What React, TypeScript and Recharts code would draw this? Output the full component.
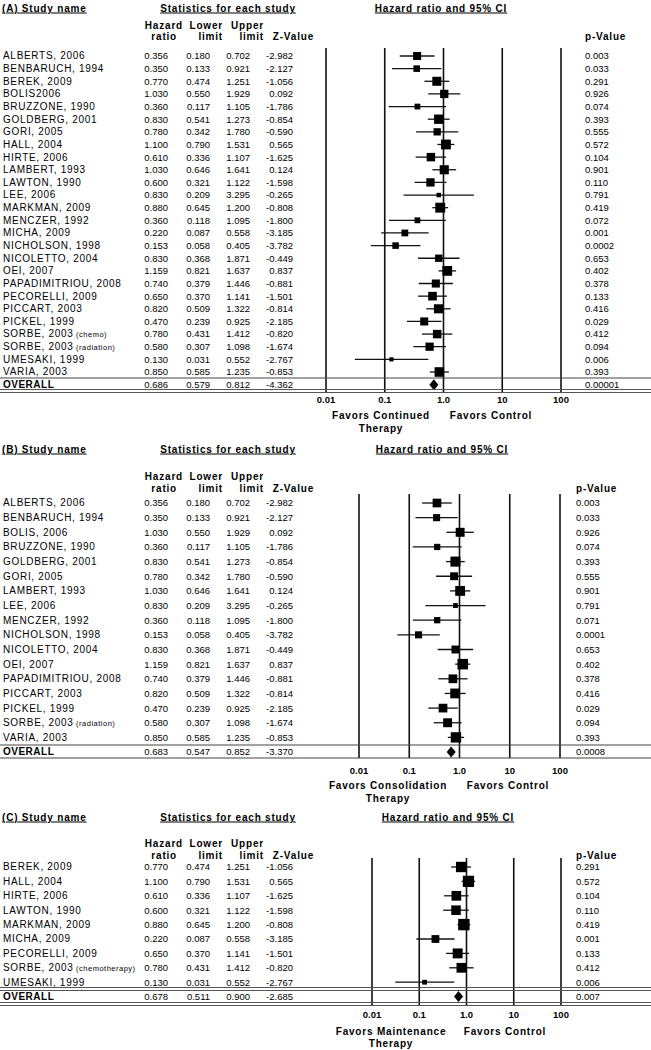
import React from 'react';
import { ScatterChart, Scatter, XAxis, YAxis, ErrorBar, ReferenceLine } from 'recharts';

// ---------- Shared axis ----------
const axisTicks = [0.01, 0.1, 1, 10, 100];
const axisTickLabels = ['0.01', '0.1', '1.0', '10', '100'];

// ---------- Panel A: continued therapy ----------
const studiesA = ['ALBERTS, 2006', 'BENBARUCH, 1994', 'BEREK, 2009', 'BOLIS2006', 'BRUZZONE, 1990', 'GOLDBERG, 2001', 'GORI, 2005', 'HALL, 2004', 'HIRTE, 2006', 'LAMBERT, 1993', 'LAWTON, 1990', 'LEE, 2006', 'MARKMAN, 2009', 'MENCZER, 1992', 'MICHA, 2009', 'NICHOLSON, 1998', 'NICOLETTO, 2004', 'OEI, 2007', 'PAPADIMITRIOU, 2008', 'PECORELLI, 2009', 'PICCART, 2003', 'PICKEL, 1999', 'SORBE, 2003', 'SORBE, 2003', 'UMESAKI, 1999', 'VARIA, 2003'];
const suffixA = ['', '', '', '', '', '', '', '', '', '', '', '', '', '', '', '', '', '', '', '', '', '', '(chemo)', '(radiation)', '', ''];
const hrA = [0.356, 0.350, 0.770, 1.030, 0.360, 0.830, 0.780, 1.100, 0.610, 1.030, 0.600, 0.830, 0.880, 0.360, 0.220, 0.153, 0.830, 1.159, 0.740, 0.650, 0.820, 0.470, 0.780, 0.580, 0.130, 0.850];
const lowerA = [0.180, 0.133, 0.474, 0.550, 0.117, 0.541, 0.342, 0.790, 0.336, 0.646, 0.321, 0.209, 0.645, 0.118, 0.087, 0.058, 0.368, 0.821, 0.379, 0.370, 0.509, 0.239, 0.431, 0.307, 0.031, 0.585];
const upperA = [0.702, 0.921, 1.251, 1.929, 1.105, 1.273, 1.780, 1.531, 1.107, 1.641, 1.122, 3.295, 1.200, 1.095, 0.558, 0.405, 1.871, 1.637, 1.446, 1.141, 1.322, 0.925, 1.412, 1.098, 0.552, 1.235];
const zA = [-2.982, -2.127, -1.056, 0.092, -1.786, -0.854, -0.590, 0.565, -1.625, 0.124, -1.598, -0.265, -0.808, -1.800, -3.185, -3.782, -0.449, 0.837, -0.881, -1.501, -0.814, -2.185, -0.820, -1.674, -2.767, -0.853];
const pA = ['0.003', '0.033', '0.291', '0.926', '0.074', '0.393', '0.555', '0.572', '0.104', '0.901', '0.110', '0.791', '0.419', '0.072', '0.001', '0.0002', '0.653', '0.402', '0.378', '0.133', '0.416', '0.029', '0.412', '0.094', '0.006', '0.393'];
const overallA = [0.686, 0.579, 0.812, -4.362];
const overallPA = '0.00001';

// ---------- Panel B: consolidation therapy ----------
const studiesB = ['ALBERTS, 2006', 'BENBARUCH, 1994', 'BOLIS, 2006', 'BRUZZONE, 1990', 'GOLDBERG, 2001', 'GORI, 2005', 'LAMBERT, 1993', 'LEE, 2006', 'MENCZER, 1992', 'NICHOLSON, 1998', 'NICOLETTO,  2004', 'OEI, 2007', 'PAPADIMITRIOU,  2008', 'PICCART, 2003', 'PICKEL, 1999', 'SORBE, 2003', 'VARIA, 2003'];
const suffixB = ['', '', '', '', '', '', '', '', '', '', '', '', '', '', '', '(radiation)', ''];
const hrB = [0.356, 0.350, 1.030, 0.360, 0.830, 0.780, 1.030, 0.830, 0.360, 0.153, 0.830, 1.159, 0.740, 0.820, 0.470, 0.580, 0.850];
const lowerB = [0.180, 0.133, 0.550, 0.117, 0.541, 0.342, 0.646, 0.209, 0.118, 0.058, 0.368, 0.821, 0.379, 0.509, 0.239, 0.307, 0.585];
const upperB = [0.702, 0.921, 1.929, 1.105, 1.273, 1.780, 1.641, 3.295, 1.095, 0.405, 1.871, 1.637, 1.446, 1.322, 0.925, 1.098, 1.235];
const zB = [-2.982, -2.127, 0.092, -1.786, -0.854, -0.590, 0.124, -0.265, -1.800, -3.782, -0.449, 0.837, -0.881, -0.814, -2.185, -1.674, -0.853];
const pB = ['0.003', '0.033', '0.926', '0.074', '0.393', '0.555', '0.901', '0.791', '0.071', '0.0001', '0.653', '0.402', '0.378', '0.416', '0.029', '0.094', '0.393'];
const overallB = [0.683, 0.547, 0.852, -3.370];
const overallPB = '0.0008';

// ---------- Panel C: maintenance therapy ----------
const studiesC = ['BEREK, 2009', 'HALL, 2004', 'HIRTE, 2006', 'LAWTON, 1990', 'MARKMAN, 2009', 'MICHA, 2009', 'PECORELLI, 2009', 'SORBE, 2003', 'UMESAKI, 1999'];
const suffixC = ['', '', '', '', '', '', '', '(chemotherapy)', ''];
const hrC = [0.770, 1.100, 0.610, 0.600, 0.880, 0.220, 0.650, 0.780, 0.130];
const lowerC = [0.474, 0.790, 0.336, 0.321, 0.645, 0.087, 0.370, 0.431, 0.031];
const upperC = [1.251, 1.531, 1.107, 1.122, 1.200, 0.558, 1.141, 1.412, 0.552];
const zC = [-1.056, 0.565, -1.625, -1.598, -0.808, -3.185, -1.501, -0.820, -2.767];
const pC = ['0.291', '0.572', '0.104', '0.110', '0.419', '0.001', '0.133', '0.412', '0.006'];
const overallC = [0.678, 0.511, 0.900, -2.685];
const overallPC = '0.007';

const FONT = '"Liberation Sans", Arial, Helvetica, sans-serif';
const FS = 9.5;
const INK = '#000';

// layout (absolute page coordinates)
const layoutA = { top: 0, height: 440, rowY0: 56, spacing: 12.64, plotTop: 48, plotBottom: 392, left: 326, right: 561, pX: 585, titleY: 8, h1Y: 25, h2Y: 36, tickY: 399, fav1Y: 415, fav2Y: 428, favL: 381, favR: 491, ciX: 441, lineAbove: 378, lineBelow: 391, aboveDouble: false, belowDouble: true, k: 1.0, label: '(A) Study name', favText: 'Favors Continued' };
const layoutB = { top: 440, height: 370, rowY0: 503, spacing: 14.65, plotTop: 494, plotBottom: 758, left: 359, right: 560, pX: 576, titleY: 449, h1Y: 476, h2Y: 488, tickY: 770, fav1Y: 785, fav2Y: 798, favL: 388, favR: 508, ciX: 442, lineAbove: 745, lineBelow: 758, aboveDouble: false, belowDouble: false, k: 1.08, label: '(B) Study name', favText: 'Favors Consolidation' };
const layoutC = { top: 810, height: 240, rowY0: 867, spacing: 14.4, plotTop: 858, plotBottom: 1005, left: 372, right: 561, pX: 576, titleY: 817, h1Y: 843, h2Y: 855, tickY: 1014, fav1Y: 1031, fav2Y: 1043, favL: 391, favR: 505, ciX: 448, lineAbove: 989, lineBelow: 1004, aboveDouble: true, belowDouble: true, k: 1.15, label: '(C) Study name', favText: 'Favors Maintenance' };

const colHR = 168, colLo = 210, colUp = 250, colZ = 293;

function HLine({ y, double, W }: any) {
  if (double) {
    return (
      <g>
        <line x1={0} x2={W} y1={y - 1.5} y2={y - 1.5} stroke="#555" strokeWidth={1} />
        <line x1={0} x2={W} y1={y + 1.5} y2={y + 1.5} stroke="#555" strokeWidth={1} />
      </g>
    );
  }
  return <line x1={0} x2={W} y1={y} y2={y} stroke="#444" strokeWidth={1} />;
}

function ForestPanel(props: any) {
  const { names, suffixes, hr, lower, upper, z, p, overall, overallP, L } = props;
  const n = names.length;
  const rows = names.map((nm: string, i: number) => ({
    x: hr[i], y: i, lower: lower[i], upper: upper[i], err: [hr[i] - lower[i], upper[i] - hr[i]],
  }));
  const overallRow = [{ x: overall[0], y: n, lower: overall[1], upper: overall[2] }];
  const yDomain = [(L.plotTop - L.rowY0) / L.spacing, (L.plotBottom - L.rowY0) / L.spacing];
  const yTicks = Array.from({ length: n + 1 }, (_, i) => i);
  const W = 651;

  const rowTick = (tp: any) => {
    const i = tp.payload.value;
    const y = tp.y;
    const by = y + 3.4;
    const isOverall = i === n;
    const fmt = (v: number) => v.toFixed(3);
    const vals = isOverall ? overall : [hr[i], lower[i], upper[i], z[i]];
    const pv = isOverall ? overallP : p[i];
    return (
      <g key={'row' + i} fontFamily={FONT} fontSize={FS} fill={INK}>
        {isOverall ? (
          <g>
            <HLine y={L.lineAbove - L.top} double={L.aboveDouble} W={W} />
            <HLine y={L.lineBelow - L.top} double={L.belowDouble} W={W} />
          </g>
        ) : null}
        {isOverall ? (
          <text x={3} y={by} fontWeight="bold" fontSize={10} letterSpacing={0.5}>OVERALL</text>
        ) : (
          <text x={3} y={by} fontSize={10} letterSpacing={0.7}>
            {names[i]}
            {suffixes[i] ? <tspan fontSize={7.5} letterSpacing={0.5}>{' ' + suffixes[i]}</tspan> : null}
          </text>
        )}
        <text x={colHR} y={by} textAnchor="end">{fmt(vals[0])}</text>
        <text x={colLo} y={by} textAnchor="end">{fmt(vals[1])}</text>
        <text x={colUp} y={by} textAnchor="end">{fmt(vals[2])}</text>
        <text x={colZ} y={by} textAnchor="end">{fmt(vals[3])}</text>
        <text x={L.pX} y={by}>{pv}</text>
      </g>
    );
  };

  const xTick = (tp: any) => {
    const idx = axisTicks.indexOf(tp.payload.value);
    return (
      <text x={tp.x} y={L.tickY - L.top + 3.5} textAnchor="middle" fontFamily={FONT} fontSize={FS} fontWeight="bold" fill={INK}>
        {idx >= 0 ? axisTickLabels[idx] : ''}
      </text>
    );
  };

  const square = (sp: any) => {
    const { cx, cy, payload } = sp;
    const se = (Math.log(payload.upper) - Math.log(payload.lower)) / 3.92;
    const s = Math.max(4, Math.min(12.5, (11.5 - 10 * se) * L.k));
    return <rect x={cx - s / 2} y={cy - s / 2} width={s} height={s} fill="#000" />;
  };
  const diamond = (sp: any) => {
    const { cx, cy } = sp;
    return <polygon points={`${cx - 4.5},${cy} ${cx},${cy - 5.5} ${cx + 4.5},${cy} ${cx},${cy + 5.5}`} fill="#000" />;
  };

  const xH = 20;
  const margin = {
    top: L.plotTop - L.top,
    right: W - L.right,
    left: L.left - 1,
    bottom: L.top + L.height - L.plotBottom - xH,
  };

  return (
    <div style={{ position: 'absolute', left: 0, top: L.top, width: W, height: L.height }}>
      <ScatterChart width={W} height={L.height} margin={margin}>
        <XAxis type="number" dataKey="x" scale="log" domain={[0.01, 100]} ticks={axisTicks} allowDataOverflow
          axisLine={false} tickLine={false} height={xH} tick={xTick} interval={0} />
        <YAxis type="number" dataKey="y" domain={yDomain} reversed ticks={yTicks} interval={0} width={1}
          axisLine={false} tickLine={false} tick={rowTick} allowDataOverflow />
        {axisTicks.map((v) => (
          <ReferenceLine key={'v' + v} x={v} stroke="#111" strokeWidth={1.6} />
        ))}
        <Scatter data={rows} shape={square} isAnimationActive={false}>
          <ErrorBar dataKey="err" direction="x" width={0} stroke="#111" strokeWidth={1.3} isAnimationActive={false} />
        </Scatter>
        <Scatter data={overallRow} shape={diamond} isAnimationActive={false} />
      </ScatterChart>
    </div>
  );
}

function StaticText({ L }: any) {
  const t = (y: number) => y - L.top + 3.5;
  const bold = { fontFamily: FONT, fontSize: 10, fontWeight: 'bold' as const, fill: INK, letterSpacing: 0.8 };
  const ul = { ...bold, textDecoration: 'underline' };
  return (
    <svg width={651} height={L.height} style={{ position: 'absolute', left: 0, top: L.top, pointerEvents: 'none' }}>
      <text x={2} y={t(L.titleY)} style={ul as any}>{L.label}</text>
      <text x={228} y={t(L.titleY)} textAnchor="middle" style={ul as any}>Statistics for each study</text>
      <text x={L.ciX} y={t(L.titleY)} textAnchor="middle" style={ul as any}>Hazard ratio and 95%  CI</text>
      <text x={183} y={t(L.h1Y)} textAnchor="end" style={bold}>Hazard</text>
      <text x={177} y={t(L.h2Y)} textAnchor="end" style={bold}>ratio</text>
      <text x={223} y={t(L.h1Y)} textAnchor="end" style={bold}>Lower</text>
      <text x={223} y={t(L.h2Y)} textAnchor="end" style={bold}>limit</text>
      <text x={264} y={t(L.h1Y)} textAnchor="end" style={bold}>Upper</text>
      <text x={264} y={t(L.h2Y)} textAnchor="end" style={bold}>limit</text>
      <text x={314} y={t(L.h2Y)} textAnchor="end" style={bold}>Z-Value</text>
      <text x={L.pX} y={t(L.h2Y)} style={bold}>p-Value</text>
      <text x={L.favL} y={t(L.fav1Y)} textAnchor="middle" style={bold}>{L.favText}</text>
      <text x={L.favL} y={t(L.fav2Y)} textAnchor="middle" style={bold}>Therapy</text>
      <text x={L.favR} y={t(L.fav1Y)} textAnchor="middle" style={bold}>Favors Control</text>
    </svg>
  );
}

export default function App() {
  return (
    <div style={{ position: 'absolute', left: 0, top: 0, width: 651, height: 1050, background: '#fff', overflow: 'hidden' }}>
      <ForestPanel names={studiesA} suffixes={suffixA} hr={hrA} lower={lowerA} upper={upperA} z={zA} p={pA}
        overall={overallA} overallP={overallPA} L={layoutA} />
      <StaticText L={layoutA} />
      <ForestPanel names={studiesB} suffixes={suffixB} hr={hrB} lower={lowerB} upper={upperB} z={zB} p={pB}
        overall={overallB} overallP={overallPB} L={layoutB} />
      <StaticText L={layoutB} />
      <ForestPanel names={studiesC} suffixes={suffixC} hr={hrC} lower={lowerC} upper={upperC} z={zC} p={pC}
        overall={overallC} overallP={overallPC} L={layoutC} />
      <StaticText L={layoutC} />
    </div>
  );
}
